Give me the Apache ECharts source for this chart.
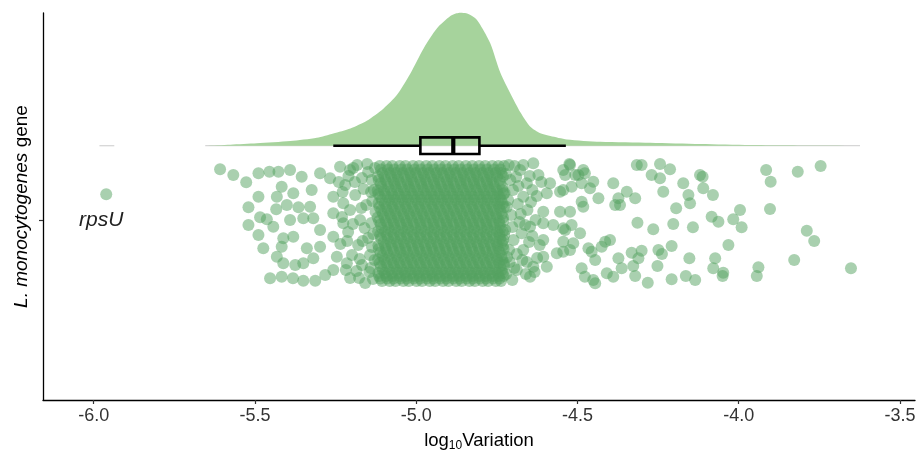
<!DOCTYPE html>
<html><head><meta charset="utf-8">
<script src="https://cdn.jsdelivr.net/npm/echarts@6/dist/echarts.min.js"></script>
<style>html,body{margin:0;padding:0;background:#fff}#c{width:919px;height:453px}</style>
</head><body><div id="c"></div>
<script>
// ---- data ----
const xTicks = [-6.0, -5.5, -5.0, -4.5, -4.0, -3.5];
const geneLabel = 'rpsU';
const densityX = [-5.654,-5.576,-5.494,-5.390,-5.308,-5.257,-5.204,-5.153,-5.101,-5.060,-5.018,-4.977,-4.936,-4.894,-4.875,-4.863,-4.845,-4.832,-4.815,-4.801,-4.770,-4.739,-4.708,-4.677,-4.646,-4.615,-4.584,-4.533,-4.429,-4.274,-4.119,-3.964,-3.757,-3.624];
const densityH = [0,0.1,0.24,0.47,0.8,1.23,1.73,2.5,3.73,5.07,7.23,9.73,11.73,12.97,13.24,13.3,13.25,13.07,12.7,12.07,10.23,7.3,5.23,3.35,1.9,1.25,0.97,0.63,0.4,0.3,0.17,0.07,0.02,0];
const tailLeft = [-5.982, -5.936];
const boxStats = [-5.257, -4.987, -4.885, -4.804, -4.536]; // whisker lo, q1, median, q3, whisker hi
const leftPoints = [
[-5.961,20.57],[-5.608,23.07],[-5.567,22.5],[-5.527,21.77],[-5.489,22.67],[-5.455,22.83],[-5.427,22.83],[-5.391,23.0],
[-5.417,21.33],[-5.381,20.67],[-5.355,22.33],[-5.324,21.0],[-5.489,20.33],[-5.432,20.33],[-5.401,19.5],[-5.365,19.27],
[-5.329,19.33],[-5.520,19.27],[-5.434,19.07],[-5.484,18.27],[-5.463,18.07],[-5.520,17.5],[-5.443,17.33],[-5.391,18.0],
[-5.350,18.17],[-5.319,18.17],[-5.489,16.5],[-5.412,16.17],[-5.381,16.33],[-5.474,15.17],[-5.417,15.33],[-5.339,15.17],
[-5.298,15.33],[-5.432,14.33],[-5.412,13.67],[-5.375,13.5],[-5.350,13.67],[-5.319,14.17],[-5.453,12.17],[-5.417,12.33],
[-5.382,12.17],[-5.350,11.93],[-5.313,11.93],[-5.282,12.5],[-5.257,13.0],[-5.298,17.0],[-5.257,16.33],[-5.298,22.67],
[-5.267,22.17],[-5.236,23.33],[-5.257,20.33],[-5.226,19.67],[-5.257,18.67],[-5.226,17.67],[-5.246,14.33],[-5.215,13.67],
[-5.205,23.0],[-5.183,23.5],[-5.168,22.2],[-5.220,21.5],[-5.189,20.5],[-5.149,22.8],[-5.155,19.5],[-5.205,19.0],
[-5.174,18.0],[-5.211,16.8],[-5.180,15.5],[-5.199,14.5],[-5.168,13.5],[-5.205,12.2],[-5.158,11.7],[-5.149,16.2],
[-5.143,14.5],[-5.140,20.8],[-5.145,12.8],[-5.160,17.2],[-5.190,21.8],[-5.230,18.3],[-5.185,12.9],
[-5.128,23.2],[-5.131,21.0],[-5.126,18.8],[-5.133,16.6],[-5.129,14.0],[-5.134,12.1],[-5.138,22.0],[-5.136,19.9],
[-5.139,17.7],[-5.137,15.3],[-5.141,13.2],[-5.152,23.6],[-5.163,21.1],[-5.170,19.2],[-5.166,15.9],[-5.175,14.1],
[-5.177,12.2],[-5.195,23.2],[-5.210,22.4],[-5.196,17.6],[-5.214,15.9],[-5.218,13.0],[-5.228,20.8],[-5.240,21.8],[-5.235,15.6]
];
const rightPoints = [
[-4.713,23.5],[-4.700,21.0],[-4.705,18.5],[-4.698,16.0],[-4.710,13.8],[-4.702,12.0],[-4.690,22.3],[-4.685,19.6],
[-4.680,17.8],[-4.688,14.6],[-4.660,12.6],[-4.655,19.0],[-4.650,15.8],[-4.640,21.0],[-4.630,18.0],[-4.625,14.2],
[-4.715,20.0],[-4.712,15.0],
[-4.722,22.6],[-4.719,19.3],[-4.724,17.0],[-4.718,14.3],[-4.721,12.6],[-4.708,22.0],[-4.695,23.4],[-4.702,17.3],
[-4.696,13.2],[-4.683,21.4],[-4.676,18.6],[-4.671,14.0],[-4.668,23.5],[-4.662,17.5],[-4.657,13.8],[-4.648,22.4],
[-4.644,19.8],[-4.640,16.4],[-4.633,12.8],[-4.626,20.4],[-4.617,15.5],[-4.612,21.8],[-4.730,16.0],[-4.726,20.7],[-4.728,13.5],
[-4.637,23.67],[-4.621,22.5],[-4.585,21.67],[-4.544,23.0],[-4.523,23.5],[-4.497,22.5],[-4.554,20.83],[-4.595,20.67],
[-4.606,18.83],[-4.554,18.83],[-4.523,18.83],[-4.606,17.67],[-4.575,17.5],[-4.544,17.17],[-4.606,16.0],[-4.544,15.83],
[-4.523,15.0],[-4.564,14.67],[-4.606,14.33],[-4.595,13.33],[-4.637,13.33],[-4.647,12.33],[-4.688,13.0],[-4.668,15.0],
[-4.668,20.33],[-4.657,21.67],[-4.678,23.0],[-4.647,17.33],[-4.673,16.67],
[-4.525,23.6],[-4.538,22.5],[-4.507,22.5],[-4.482,23.0],[-4.477,22.67],[-4.451,21.83],[-4.544,21.0],[-4.518,21.33],
[-4.487,21.67],[-4.461,21.17],[-4.435,20.17],[-4.389,21.67],[-4.316,23.5],[-4.301,23.5],[-4.244,23.6],[-4.213,23.07],
[-4.270,22.5],[-4.244,22.17],[-4.234,20.83],[-4.347,20.83],[-4.373,20.17],[-4.321,20.17],[-4.383,19.5],[-4.368,19.5],
[-4.172,21.67],[-4.156,20.5],[-4.151,19.67],[-4.120,22.5],[-4.112,22.33],[-4.110,21.17],[-4.080,20.5],[-4.194,19.17],
[-4.487,19.83],[-4.482,19.33],[-4.314,17.73],[-4.265,17.07],[-4.203,17.6],[-4.142,17.27],[-4.084,18.33],[-4.063,17.83],
[-4.017,18.07],[-3.996,19.0],[-3.991,17.27],[-3.915,23.0],[-3.901,21.83],[-3.817,22.83],[-3.746,23.4],[-3.903,19.1],
[-3.789,16.93],[-3.766,15.9],[-4.032,15.5],[-3.828,14.0],[-3.652,13.17],[-3.939,13.27],[-3.944,12.4],[-4.073,14.17],
[-4.079,13.17],[-4.048,12.73],[-4.050,12.4],[-4.135,12.0],[-4.164,12.4],[-4.208,12.07],[-4.153,14.17],[-4.208,15.4],
[-4.249,15.0],[-4.238,14.6],[-4.252,13.4],[-4.282,11.73],[-4.321,12.4],[-4.327,13.4],[-4.332,14.73],[-4.301,14.93],
[-4.311,14.17],[-4.373,14.17],[-4.363,13.17],[-4.389,12.33],[-4.409,12.67],[-4.414,15.83],[-4.399,16.0],[-4.425,15.33],
[-4.445,14.0],[-4.456,14.83],[-4.466,15.17],[-4.487,13.17],[-4.477,12.33],[-4.451,12.0],[-4.445,11.67],[-4.492,16.67],
[-4.513,15.67],[-4.518,17.5],[-4.538,17.0],[-4.544,14.83]
];
const coreY = [23.4,22.7,22.0,21.3,20.6,20.0,19.3,18.6,17.9,17.2,16.5,15.8,15.1,14.4,13.7,13.0,12.4,11.9];
const coreX = [
[-5.113,-5.092,-5.074,-5.051,-5.033,-5.010,-4.991,-4.969,-4.950,-4.928,-4.909,-4.887,-4.868,-4.846,-4.826,-4.805,-4.786,-4.764,-4.745,-4.728],
[-5.104,-5.081,-5.062,-5.041,-5.020,-5.001,-4.979,-4.960,-4.938,-4.918,-4.897,-4.877,-4.856,-4.835,-4.816,-4.794,-4.775,-4.754,-4.736],
[-5.116,-5.095,-5.071,-5.055,-5.030,-5.013,-4.988,-4.971,-4.947,-4.930,-4.905,-4.889,-4.864,-4.848,-4.823,-4.807,-4.782,-4.766,-4.741],
[-5.108,-5.086,-5.064,-5.044,-5.022,-5.004,-4.981,-4.963,-4.940,-4.921,-4.899,-4.880,-4.858,-4.838,-4.817,-4.797,-4.776,-4.757,-4.733],
[-5.117,-5.097,-5.075,-5.054,-5.034,-5.012,-4.993,-4.970,-4.952,-4.929,-4.911,-4.888,-4.870,-4.847,-4.829,-4.806,-4.788,-4.765,-4.747,-4.729],
[-5.106,-5.083,-5.065,-5.042,-5.024,-5.001,-4.983,-4.960,-4.942,-4.919,-4.901,-4.878,-4.860,-4.837,-4.819,-4.796,-4.778,-4.755,-4.737],
[-5.114,-5.093,-5.073,-5.052,-5.032,-5.011,-4.990,-4.970,-4.949,-4.929,-4.908,-4.887,-4.867,-4.846,-4.826,-4.805,-4.784,-4.764,-4.743,-4.728],
[-5.103,-5.082,-5.063,-5.040,-5.021,-4.999,-4.980,-4.958,-4.939,-4.917,-4.898,-4.876,-4.857,-4.835,-4.816,-4.794,-4.775,-4.753,-4.735],
[-5.115,-5.094,-5.072,-5.053,-5.031,-5.012,-4.989,-4.971,-4.948,-4.930,-4.907,-4.889,-4.866,-4.848,-4.825,-4.807,-4.784,-4.766,-4.743,-4.730],
[-5.107,-5.085,-5.066,-5.043,-5.025,-5.002,-4.984,-4.961,-4.943,-4.920,-4.902,-4.879,-4.861,-4.838,-4.820,-4.797,-4.779,-4.756,-4.738],
[-5.112,-5.091,-5.070,-5.050,-5.029,-5.009,-4.988,-4.968,-4.947,-4.927,-4.906,-4.886,-4.865,-4.845,-4.824,-4.804,-4.783,-4.763,-4.742,-4.727],
[-5.101,-5.080,-5.060,-5.039,-5.019,-4.998,-4.978,-4.957,-4.937,-4.916,-4.896,-4.875,-4.855,-4.834,-4.814,-4.793,-4.773,-4.752,-4.734],
[-5.116,-5.094,-5.073,-5.051,-5.033,-5.010,-4.991,-4.969,-4.950,-4.928,-4.909,-4.887,-4.868,-4.846,-4.827,-4.805,-4.786,-4.764,-4.745,-4.729],
[-5.105,-5.084,-5.062,-5.041,-5.022,-5.000,-4.981,-4.959,-4.940,-4.918,-4.899,-4.877,-4.858,-4.836,-4.817,-4.795,-4.776,-4.754,-4.736],
[-5.113,-5.092,-5.071,-5.052,-5.030,-5.011,-4.989,-4.970,-4.948,-4.929,-4.907,-4.888,-4.866,-4.847,-4.825,-4.806,-4.784,-4.765,-4.744,-4.728],
[-5.104,-5.083,-5.061,-5.042,-5.020,-5.001,-4.979,-4.960,-4.938,-4.919,-4.897,-4.878,-4.856,-4.837,-4.815,-4.796,-4.774,-4.755,-4.735],
[-5.115,-5.093,-5.074,-5.050,-5.032,-5.009,-4.990,-4.968,-4.949,-4.927,-4.908,-4.886,-4.867,-4.845,-4.826,-4.804,-4.785,-4.763,-4.744,-4.729],
[-5.106,-5.082,-5.064,-5.040,-5.023,-4.999,-4.982,-4.958,-4.941,-4.917,-4.900,-4.876,-4.859,-4.835,-4.818,-4.794,-4.777,-4.753,-4.737]
];
const coreY2 = [23.05,22.35,21.65,20.95,20.3,19.65,18.95,18.25,17.55,16.85,16.15,15.45,14.75,14.05,13.35,12.7,12.15];
const coreX2 = [
[-5.109,-5.087,-5.068,-5.046,-5.027,-5.005,-4.985,-4.964,-4.944,-4.923,-4.903,-4.882,-4.862,-4.841,-4.821,-4.800,-4.780,-4.759,-4.739],
[-5.118,-5.098,-5.077,-5.057,-5.036,-5.016,-4.995,-4.975,-4.954,-4.934,-4.913,-4.893,-4.872,-4.852,-4.831,-4.811,-4.790,-4.770,-4.749,-4.731],
[-5.110,-5.089,-5.067,-5.048,-5.026,-5.007,-4.985,-4.966,-4.944,-4.925,-4.903,-4.884,-4.862,-4.843,-4.821,-4.802,-4.780,-4.761,-4.740],
[-5.119,-5.099,-5.078,-5.058,-5.037,-5.017,-4.996,-4.976,-4.955,-4.935,-4.914,-4.894,-4.873,-4.853,-4.832,-4.812,-4.791,-4.771,-4.750,-4.732],
[-5.111,-5.088,-5.069,-5.047,-5.028,-5.006,-4.986,-4.965,-4.945,-4.924,-4.904,-4.883,-4.863,-4.842,-4.822,-4.801,-4.781,-4.760,-4.741],
[-5.117,-5.097,-5.076,-5.056,-5.035,-5.015,-4.994,-4.974,-4.953,-4.933,-4.912,-4.892,-4.871,-4.851,-4.830,-4.810,-4.789,-4.769,-4.748,-4.732],
[-5.108,-5.088,-5.067,-5.047,-5.026,-5.006,-4.985,-4.965,-4.944,-4.924,-4.903,-4.883,-4.862,-4.842,-4.821,-4.801,-4.780,-4.760,-4.739],
[-5.119,-5.098,-5.078,-5.057,-5.037,-5.016,-4.996,-4.975,-4.955,-4.934,-4.914,-4.893,-4.873,-4.852,-4.832,-4.811,-4.791,-4.770,-4.750,-4.731],
[-5.110,-5.089,-5.069,-5.048,-5.028,-5.007,-4.987,-4.966,-4.946,-4.925,-4.905,-4.884,-4.864,-4.843,-4.823,-4.802,-4.782,-4.761,-4.741],
[-5.118,-5.097,-5.077,-5.056,-5.036,-5.015,-4.995,-4.974,-4.954,-4.933,-4.913,-4.892,-4.872,-4.851,-4.831,-4.810,-4.790,-4.769,-4.749,-4.732],
[-5.109,-5.088,-5.068,-5.047,-5.027,-5.006,-4.986,-4.965,-4.945,-4.924,-4.904,-4.883,-4.863,-4.842,-4.822,-4.801,-4.781,-4.760,-4.740],
[-5.117,-5.096,-5.076,-5.055,-5.035,-5.014,-4.994,-4.973,-4.953,-4.932,-4.912,-4.891,-4.871,-4.850,-4.830,-4.809,-4.789,-4.768,-4.748,-4.731],
[-5.110,-5.090,-5.069,-5.049,-5.028,-5.008,-4.987,-4.967,-4.946,-4.926,-4.905,-4.885,-4.864,-4.844,-4.823,-4.803,-4.782,-4.762,-4.741],
[-5.118,-5.098,-5.077,-5.057,-5.036,-5.016,-4.995,-4.975,-4.954,-4.934,-4.913,-4.893,-4.872,-4.852,-4.831,-4.811,-4.790,-4.770,-4.749,-4.733],
[-5.109,-5.089,-5.068,-5.048,-5.027,-5.007,-4.986,-4.966,-4.945,-4.925,-4.904,-4.884,-4.863,-4.843,-4.822,-4.802,-4.781,-4.761,-4.740],
[-5.117,-5.097,-5.076,-5.056,-5.035,-5.015,-4.994,-4.974,-4.953,-4.933,-4.912,-4.892,-4.871,-4.851,-4.830,-4.810,-4.789,-4.769,-4.748,-4.732],
[-5.111,-5.090,-5.070,-5.049,-5.029,-5.008,-4.988,-4.967,-4.947,-4.926,-4.906,-4.885,-4.865,-4.844,-4.824,-4.803,-4.783,-4.762,-4.742]
];

// ---- layout constants ----
const BASE = 25.43;   // density baseline / boxplot centre (y units)
const GENE_Y = 18.0;  // position of the gene category tick
const BOX_HALF = 0.83;
const FONT = '"Liberation Sans", Arial, sans-serif';

const corePoints = [];
coreY.forEach((y, r) => coreX[r].forEach(x => corePoints.push([x, y])));
coreY2.forEach((y, r) => coreX2[r].forEach(x => corePoints.push([x, y])));
const allPoints = leftPoints.concat(corePoints, rightPoints);

const chart = echarts.init(document.getElementById('c'), null, {renderer: 'canvas'});
chart.setOption({
  animation: false,
  backgroundColor: '#fff',
  grid: {left: 43, right: 4, top: 13, bottom: 53, containLabel: false, outerBoundsMode: 'none'},
  xAxis: {
    type: 'value', min: -6.157, max: -3.4535,
    splitLine: {show: false},
    axisLine: {show: true, onZero: false, lineStyle: {color: '#000', width: 1.3}},
    axisTick: {show: true, customValues: xTicks, length: 4, lineStyle: {color: '#333', width: 1.2}},
    axisLabel: {customValues: xTicks, formatter: v => v.toFixed(1), fontSize: 18, color: '#333', fontFamily: FONT, margin: 7},
    name: '{a|log}{s|10}{a|Variation}', nameLocation: 'middle', nameGap: 27,
    nameTextStyle: {fontFamily: FONT, color: '#000', rich: {
      a: {fontSize: 18.5, fontFamily: FONT, color: '#000', lineHeight: 22},
      s: {fontSize: 12, fontFamily: FONT, color: '#000', lineHeight: 14, padding: [10, 0, 0, 0]}
    }}
  },
  yAxis: {
    type: 'value', min: 0, max: 38.7,
    splitLine: {show: false},
    axisLine: {show: true, onZero: false, lineStyle: {color: '#000', width: 1.3}},
    axisTick: {show: true, customValues: [GENE_Y], length: 4, lineStyle: {color: '#333', width: 1.2}},
    axisLabel: {customValues: [GENE_Y], formatter: () => geneLabel, inside: true, margin: 36,
      fontSize: 21, fontStyle: 'italic', color: '#222', fontFamily: FONT},
    name: '{i|L. monocytogenes}{n| gene}', nameLocation: 'middle', nameGap: 12, nameRotate: 90,
    nameTextStyle: {fontFamily: FONT, color: '#000', rich: {
      i: {fontSize: 19, fontStyle: 'italic', fontFamily: FONT, color: '#000'},
      n: {fontSize: 19, fontFamily: FONT, color: '#000'}
    }}
  },
  series: [
    { // faint outline where the density is thinner than a pixel
      type: 'custom', data: [[densityX[0], BASE]], silent: true, z: 1,
      renderItem: (p, api) => {
        const a = api.coord([tailLeft[0], BASE]), b = api.coord([tailLeft[1], BASE]);
        const c = api.coord([densityX[0], BASE]), d = api.coord([densityX[densityX.length - 1], BASE]);
        const st = {stroke: '#d6d6d6', lineWidth: 1.3};
        return {type: 'group', children: [
          {type: 'line', shape: {x1: a[0], y1: a[1], x2: b[0], y2: b[1]}, style: st},
          {type: 'line', shape: {x1: c[0], y1: c[1], x2: d[0], y2: d[1]}, style: st}
        ]};
      }
    },
    { // half-violin density
      type: 'custom', data: [[densityX[0], BASE]], silent: true, z: 2,
      renderItem: (p, api) => {
        const pts = densityX.map((x, i) => api.coord([x, BASE + densityH[i]]));
        pts.push(api.coord([densityX[densityX.length - 1], BASE]));
        pts.push(api.coord([densityX[0], BASE]));
        return {type: 'polygon', shape: {points: pts, smooth: 0.25}, style: {fill: '#a6d39c', stroke: null}};
      }
    },
    { // boxplot
      type: 'custom', data: [[boxStats[2], BASE]], silent: true, z: 3,
      renderItem: (p, api) => {
        const [lo, q1, med, q3, hi] = boxStats;
        const pLo = api.coord([lo, BASE]), pQ1 = api.coord([q1, BASE]), pQ3 = api.coord([q3, BASE]), pHi = api.coord([hi, BASE]);
        const top = api.coord([q1, BASE + BOX_HALF])[1], bot = api.coord([q1, BASE - BOX_HALF])[1];
        const pMed = api.coord([med, BASE]);
        const st = {stroke: '#000', lineWidth: 2.6, fill: null};
        return {type: 'group', children: [
          {type: 'line', shape: {x1: pLo[0], y1: pLo[1], x2: pQ1[0], y2: pQ1[1]}, style: st},
          {type: 'line', shape: {x1: pQ3[0], y1: pQ3[1], x2: pHi[0], y2: pHi[1]}, style: st},
          {type: 'rect', shape: {x: pQ1[0], y: top, width: pQ3[0] - pQ1[0], height: bot - top}, style: st},
          {type: 'line', shape: {x1: pMed[0], y1: top, x2: pMed[0], y2: bot}, style: {stroke: '#000', lineWidth: 4.2}}
        ]};
      }
    },
    { // jittered observations
      type: 'scatter', data: allPoints, symbol: 'circle', symbolSize: 12, z: 4, silent: true,
      itemStyle: {color: 'rgb(84,162,96)', opacity: 0.5, borderWidth: 0}
    }
  ]
});
</script></body></html>
